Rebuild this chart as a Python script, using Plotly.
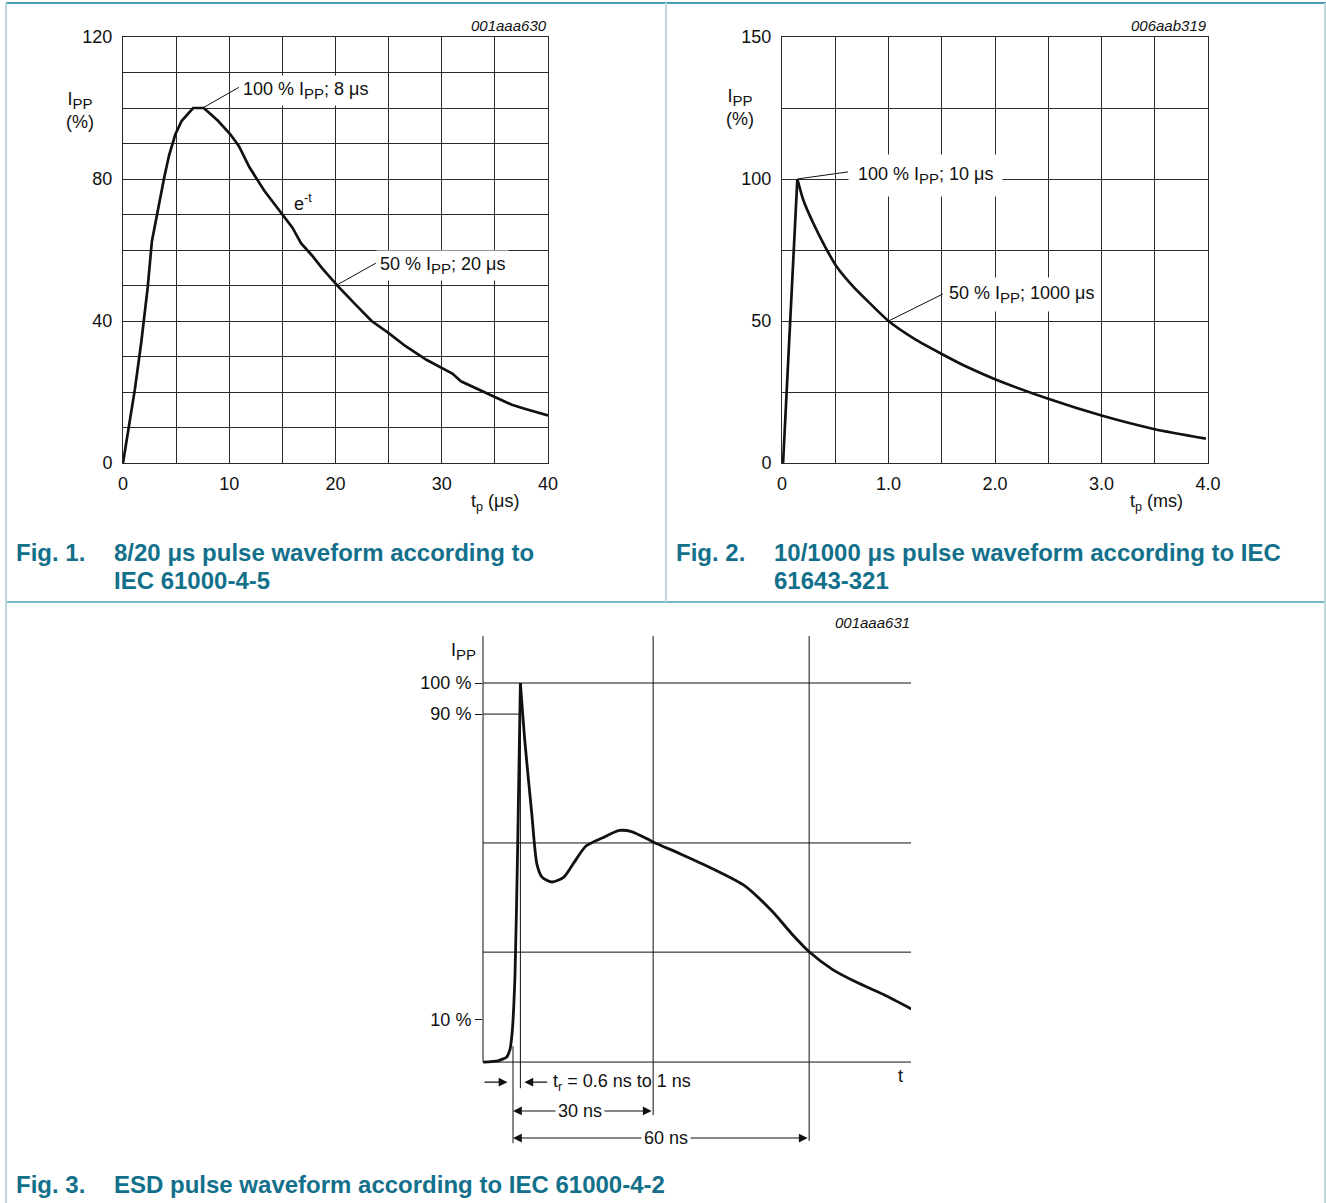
import plotly.graph_objects as go

W, H = 1326, 1203

# ---------------- data ----------------
# Fig. 1: 8/20 us pulse
f1_t = [0, 0.52, 1.12, 1.72, 2.32, 2.72, 3.33, 3.85, 4.33, 4.93, 5.53, 6.33, 6.6, 7.13, 7.6,
        8.94, 10.1, 10.9, 11.9, 13.3, 14.95, 15.95, 16.75, 17.75, 18.75, 20.2, 21.8, 23.4,
        24.95, 26.6, 28.6, 31.0, 31.8, 34.2, 36.6, 37.8, 40.0]
f1_i = [0, 9.9, 20.8, 34, 49.3, 62.5, 72.3, 80, 86.6, 92.6, 96.4, 99.2, 100, 100, 100,
        96.4, 92.6, 89.3, 83.3, 76.7, 70.1, 66.3, 61.9, 58.6, 54.8, 49.9, 44.9, 40,
        36.7, 32.9, 29, 25.2, 23, 19.7, 16.4, 15.3, 13.4]
f1_xticks = [0, 10, 20, 30, 40]
f1_yticks = [0, 40, 80, 120]

# Fig. 2: 10/1000 us pulse
f2_rise_t = [0.01, 0.144]
f2_rise_i = [0, 100]
f2_decay_t = [0.144, 0.2, 0.294, 0.404, 0.514, 0.669, 0.826, 1.0, 1.24, 1.5, 1.75,
              2.0, 2.5, 3.0, 3.5, 3.98]
f2_decay_i = [100, 92.6, 84.4, 76.2, 69.1, 62.1, 56.2, 50, 43.8, 38.4, 33.6,
              29.5, 22.6, 16.7, 11.9, 8.6]
f2_xtick_vals = [0, 1, 2, 3, 4]
f2_xtick_text = ["0", "1.0", "2.0", "3.0", "4.0"]
f2_yticks = [0, 50, 100, 150]

# Fig. 3: ESD pulse (schematic)
f3_rise_t = [-6.21, -3.13, -1.35, -0.65, -0.17, 0.42, 0.96, 1.54]
f3_rise_i = [0, 0.34, 1.3, 3.2, 7.9, 23, 56, 100]
f3_decay_t = [1.54, 2.5, 3.92, 4.98, 6.04, 8.13, 10.6, 12.7, 15.2, 18.7, 22.2, 24.7, 29.3,
              34.9, 41.25, 48.3, 53.9, 58.1, 61.7, 66.6, 71.5, 77.2, 83.0]
f3_decay_i = [100, 84.2, 65.4, 52.2, 48.8, 47.5, 48.8, 52.6, 57.0, 59.2, 61.1, 60.8, 58.0,
              54.9, 51.2, 46.5, 39.9, 33.8, 29.1, 24.4, 21.1, 17.8, 14.0]
f3_ytick_vals = [11.3, 91.8, 100]
f3_ytick_text = ["10 %", "90 %", "100 %"]
f3_hgrid = [100, 57.8, 29.0]
f3_t_start, f3_t_peak, f3_t30, f3_t60 = 0, 1.54, 29.2, 61.7
f3_t90 = 1.43

# ---------------- helpers ----------------
FONT = "Liberation Sans, Arial, sans-serif"
INK = "#111111"
GRID = "#2a2a2a"
TEAL = "#13708b"
BORDER_DARK = "#4aa0b3"
BORDER_LIGHT = "#bcd8dd"
FS = 18
IPP = "I<sub><span style='font-size:15px'>PP</span></sub>"


def PX(x):
    return x / W


def PY(y):
    return 1 - y / H


fig = go.Figure()

fig.add_trace(go.Scatter(x=f1_t, y=f1_i, mode="lines", line=dict(color=INK, width=2.7),
                         xaxis="x", yaxis="y", hoverinfo="skip"))
fig.add_trace(go.Scatter(x=f2_rise_t, y=f2_rise_i, mode="lines", line=dict(color=INK, width=2.7),
                         xaxis="x2", yaxis="y2", hoverinfo="skip"))
fig.add_trace(go.Scatter(x=f2_decay_t, y=f2_decay_i, mode="lines",
                         line=dict(color=INK, width=2.7, shape="spline", smoothing=0.6),
                         xaxis="x2", yaxis="y2", hoverinfo="skip"))
fig.add_trace(go.Scatter(x=f3_rise_t, y=f3_rise_i, mode="lines",
                         line=dict(color=INK, width=2.8, shape="spline", smoothing=0.5),
                         xaxis="x3", yaxis="y3", hoverinfo="skip"))
fig.add_trace(go.Scatter(x=f3_decay_t, y=f3_decay_i, mode="lines",
                         line=dict(color=INK, width=2.8, shape="spline", smoothing=0.7),
                         xaxis="x3", yaxis="y3", hoverinfo="skip"))

tickfont = dict(family=FONT, size=FS, color=INK)


def boxed_axis(domain, rng, minor, anchor, tickvals, ticktext, standoff=8):
    return dict(domain=domain, range=rng, anchor=anchor, automargin=False,
                showgrid=True, gridcolor=GRID, gridwidth=1,
                minor=dict(dtick=minor, tick0=0, showgrid=True, gridcolor=GRID, gridwidth=1,
                           ticks=""),
                showline=True, mirror=True, linecolor=GRID, linewidth=1, zeroline=False,
                ticks="", tickfont=tickfont, ticklabelstandoff=standoff, fixedrange=True,
                tickmode="array", tickvals=tickvals, ticktext=ticktext)


layout = dict(
    template="none",
    width=W, height=H, margin=dict(l=0, r=0, t=0, b=0, pad=0, autoexpand=False),
    paper_bgcolor="white", plot_bgcolor="white", showlegend=False,
    font=dict(family=FONT, color=INK),
    xaxis=boxed_axis([PX(123), PX(548)], [0, 40], 5, "y", f1_xticks,
                     [str(v) for v in f1_xticks], standoff=4),
    yaxis=boxed_axis([PY(463), PY(37)], [0, 120], 10, "x", f1_yticks,
                     [str(v) for v in f1_yticks], standoff=6),
    xaxis2=boxed_axis([PX(782), PX(1208)], [0, 4], 0.5, "y2", f2_xtick_vals, f2_xtick_text,
                      standoff=4),
    yaxis2=boxed_axis([PY(463), PY(37)], [0, 150], 25, "x2", f2_yticks,
                      [str(v) for v in f2_yticks], standoff=6),
    xaxis3=dict(domain=[PX(483), PX(911)], range=[-6.25, 82.92], anchor="y3", showgrid=False,
                zeroline=False, showline=False, showticklabels=False, ticks="", fixedrange=True,
                automargin=False),
    yaxis3=dict(domain=[PY(1150), PY(636)], range=[-23.2, 112.4], anchor="x3", showgrid=False,
                zeroline=False, showline=False, ticks="outside", ticklen=7, tickwidth=1,
                tickcolor=INK, tickmode="array", tickvals=f3_ytick_vals, ticktext=f3_ytick_text,
                tickfont=tickfont, ticklabelstandoff=0, fixedrange=True, automargin=False),
)
fig.update_layout(**layout)

shapes = []
ann = []


def line(x0, y0, x1, y1, xref, yref, color=INK, width=1):
    shapes.append(dict(type="line", x0=x0, y0=y0, x1=x1, y1=y1, xref=xref, yref=yref,
                       line=dict(color=color, width=width), layer="above"))


def text(t, x, y, xref="paper", yref="paper", size=FS, xanchor="center", yanchor="middle",
         bg=None, pad=1, color=INK, bold=False, align="left"):
    d = dict(text=t, x=x, y=y, xref=xref, yref=yref, showarrow=False, xanchor=xanchor,
             yanchor=yanchor, font=dict(family=FONT, size=size, color=color,
                                        weight="bold" if bold else "normal"),
             borderpad=pad, align=align)
    if bg:
        d["bgcolor"] = bg
    ann.append(d)


# ---- panel borders ----
line(PX(6), PY(3), 1, PY(3), "paper", "paper", BORDER_DARK, 2)
line(PX(6), PY(602), 1, PY(602), "paper", "paper", BORDER_DARK, 1.5)
line(PX(6), PY(3), PX(6), 0, "paper", "paper", BORDER_LIGHT, 2)
line(PX(1325), PY(3), PX(1325), 0, "paper", "paper", BORDER_LIGHT, 2)
line(PX(666), PY(3), PX(666), PY(602), "paper", "paper", BORDER_LIGHT, 2)

# ---- Fig. 1 annotations ----
line(7.5, 100, 10.9, 105.8, "x", "y")
text("100 % " + IPP + "; 8 μs", 10.9, 104.8, "x", "y", xanchor="left", bg="white", pad=3)
line(20.05, 50, 23.8, 56.3, "x", "y")
text("50 % " + IPP + "; 20 μs", 23.8, 55.6, "x", "y", xanchor="left", bg="white", pad=3)
text("e<sup>-t</sup>", 16.9, 73.4, "x", "y")
text(IPP + "<br>(%)", PX(80), PY(110), align="center")
text("t<sub>p</sub> (μs)", PX(495), PY(502))
text("<i>001aaa630</i>", PX(549), PY(25), size=15, xanchor="right")

# ---- Fig. 2 annotations ----
line(0.144, 100, 0.62, 102.5, "x2", "y2")
text("100 % " + IPP + "; 10 μs", 0.62, 101.4, "x2", "y2", xanchor="left", bg="white", pad=9)
line(1.0, 50, 1.51, 59.5, "x2", "y2")
text("50 % " + IPP + "; 1000 μs", 1.51, 59.2, "x2", "y2", xanchor="left", bg="white", pad=5)
text(IPP + "<br>(%)", PX(740), PY(108), align="center")
text("t<sub>p</sub> (ms)", PX(1156), PY(502))
text("<i>006aab319</i>", PX(1209), PY(25), size=15, xanchor="right")

# ---- Fig. 3 drawing ----
line(-6.25, 0, 82.92, 0, "x3", "y3")
line(PX(483), 0, PX(483), 112.4, "paper", "y3")
for g in f3_hgrid:
    line(-6.25, g, 82.92, g, "x3", "y3")
line(-6.25, f3_ytick_vals[1], f3_t90, f3_ytick_vals[1], "x3", "y3")
line(f3_t_start, 4.2, f3_t_start, -21.4, "x3", "y3")
line(f3_t_peak, 100, f3_t_peak, -6.9, "x3", "y3")
line(f3_t30, 112.4, f3_t30, -14.0, "x3", "y3")
line(f3_t60, 112.4, f3_t60, -20.8, "x3", "y3")


def arrow(x_head, x_tail, y, both=False):
    ann.append(dict(x=x_head, y=y, ax=x_tail, ay=y, xref="x3", yref="y3", axref="x3", ayref="y3",
                    text="", showarrow=True, arrowhead=2, arrowsize=1.6, arrowwidth=1.1,
                    arrowcolor=INK, arrowside="end+start" if both else "end", startarrowhead=2,
                    startarrowsize=1.6))


arrow(-1.15, -6.25, -5.3)
arrow(2.37, 7.44, -5.3)
arrow(f3_t_start, f3_t30, -12.9, both=True)
arrow(f3_t_start, f3_t60, -20.05, both=True)
text("t<sub>r</sub> = 0.6 ns to 1 ns", 7.9, -5.3, "x3", "y3", xanchor="left")
text("30 ns", 14.0, -12.9, "x3", "y3", bg="white", pad=2)
text("60 ns", 31.9, -20.05, "x3", "y3", bg="white", pad=2)
text("t", PX(900), PY(1076))
text(IPP, PX(464), PY(651))
text("<i>001aaa631</i>", PX(912), PY(622), size=15, xanchor="right")

# ---- captions ----
CS = 24
text("Fig. 1.", PX(14), PY(552), size=CS, xanchor="left", color=TEAL, bold=True)
text("8/20 μs pulse waveform according to", PX(112), PY(552), size=CS, xanchor="left",
     color=TEAL, bold=True)
text("IEC 61000-4-5", PX(112), PY(580), size=CS, xanchor="left", color=TEAL, bold=True)
text("Fig. 2.", PX(674), PY(552), size=CS, xanchor="left", color=TEAL, bold=True)
text("10/1000 μs pulse waveform according to IEC", PX(772), PY(552), size=CS, xanchor="left",
     color=TEAL, bold=True)
text("61643-321", PX(772), PY(580), size=CS, xanchor="left", color=TEAL, bold=True)
text("Fig. 3.", PX(14), PY(1184), size=CS, xanchor="left", color=TEAL, bold=True)
text("ESD pulse waveform according to IEC 61000-4-2", PX(112), PY(1184), size=CS,
     xanchor="left", color=TEAL, bold=True)

fig.update_layout(shapes=shapes, annotations=ann)

fig.write_html("out.html", config={"displayModeBar": False, "staticPlot": True},
               post_script="document.body.style.margin='0';")
